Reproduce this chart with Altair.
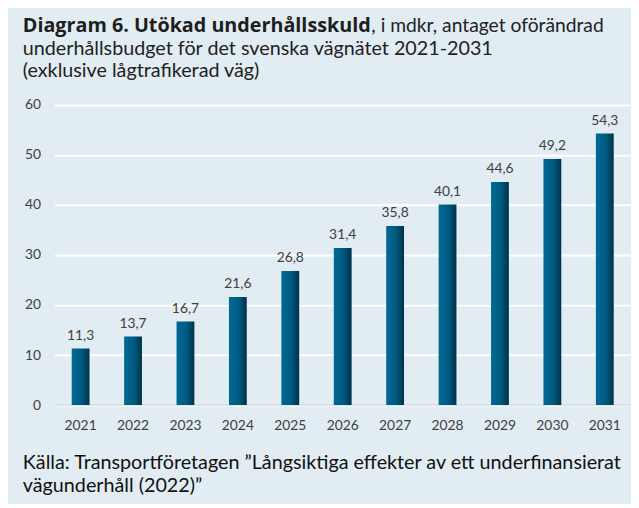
import altair as alt
import pandas as pd

years = ["2021", "2022", "2023", "2024", "2025", "2026", "2027", "2028", "2029", "2030", "2031"]
values = [11.3, 13.7, 16.7, 21.6, 26.8, 31.4, 35.8, 40.1, 44.6, 49.2, 54.3]
y_ticks = [0, 10, 20, 30, 40, 50, 60]

title_bold = "Diagram 6. Utökad underhållsskuld"
title_rest = ", i mdkr, antaget oförändrad"
title_line2 = "underhållsbudget för det svenska vägnätet 2021-2031"
title_line3 = "(exklusive lågtrafikerad väg)"
source_line1 = "Källa: Transportföretagen ”Långsiktiga effekter av ett underfinansierat"
source_line2 = "vägunderhåll (2022)”"

FONT = "Lato"
BG = "#e1ecf3"

df = pd.DataFrame({
    "year": years,
    "value": values,
    "label": [f"{v:.1f}".replace(".", ",") for v in values],
})

x = alt.X("year:O", title=None,
          scale=alt.Scale(paddingInner=0.66, paddingOuter=0.33),
          axis=alt.Axis(labelAngle=0, labelFont=FONT, labelFontSize=14, labelColor="#404040",
                        labelPadding=14, ticks=False, domain=False, grid=False))
y = alt.Y("value:Q", title=None,
          scale=alt.Scale(domain=[0, 60], nice=False),
          axis=alt.Axis(values=y_ticks, labelFont=FONT, labelFontSize=14, labelColor="#404040",
                        labelPadding=14, ticks=False, domain=False, grid=True,
                        gridColor="#ffffff", gridWidth=2))

base = alt.Chart(df)

bars = base.mark_bar(
    color=alt.Gradient(
        gradient="linear", x1=0, x2=1, y1=0, y2=0,
        stops=[alt.GradientStop(offset=0, color="#006a94"),
               alt.GradientStop(offset=0.55, color="#005a80"),
               alt.GradientStop(offset=1, color="#00324a")],
    )
).encode(x=x, y=y)

zero = alt.Chart(pd.DataFrame({"z": [0]})).mark_rule(color="#d3dbe1", strokeWidth=1.5).encode(y="z:Q")

labels = base.mark_text(baseline="bottom", dy=-6, font=FONT, fontSize=14, color="#404040").encode(
    x=x, y=y, text="label:N")

one = pd.DataFrame({"a": [0]})

def txt(s, xv, yv, size, weight="normal", color="#222222", font=FONT):
    return alt.Chart(one).mark_text(
        align="left", baseline="alphabetic", font=font, fontSize=size, fontWeight=weight, color=color
    ).encode(x=alt.value(xv), y=alt.value(yv), text=alt.value(s))

title_parts = (
    txt(title_bold, -32, -74, 20, "bold", "#1e1e1e", "Open Sans")
    + txt(title_rest, 321, -74, 19.5)
    + txt(title_line2, -32, -51, 20)
    + txt(title_line3, -32, -28, 20)
    + txt(source_line1, -32, 369, 20, color="#111111")
    + txt(source_line2, -32, 392, 20, color="#111111")
)

chart = alt.layer(zero, bars, labels, title_parts).properties(
    width=584, height=304,
    autosize=alt.AutoSizeParams(type="none"),
    padding={"left": 47, "top": 95, "right": 0, "bottom": 97},
    background=BG,
).configure_view(strokeWidth=0, fill=BG)

chart.save("out.html", embed_options={"renderer": "svg", "actions": False})
